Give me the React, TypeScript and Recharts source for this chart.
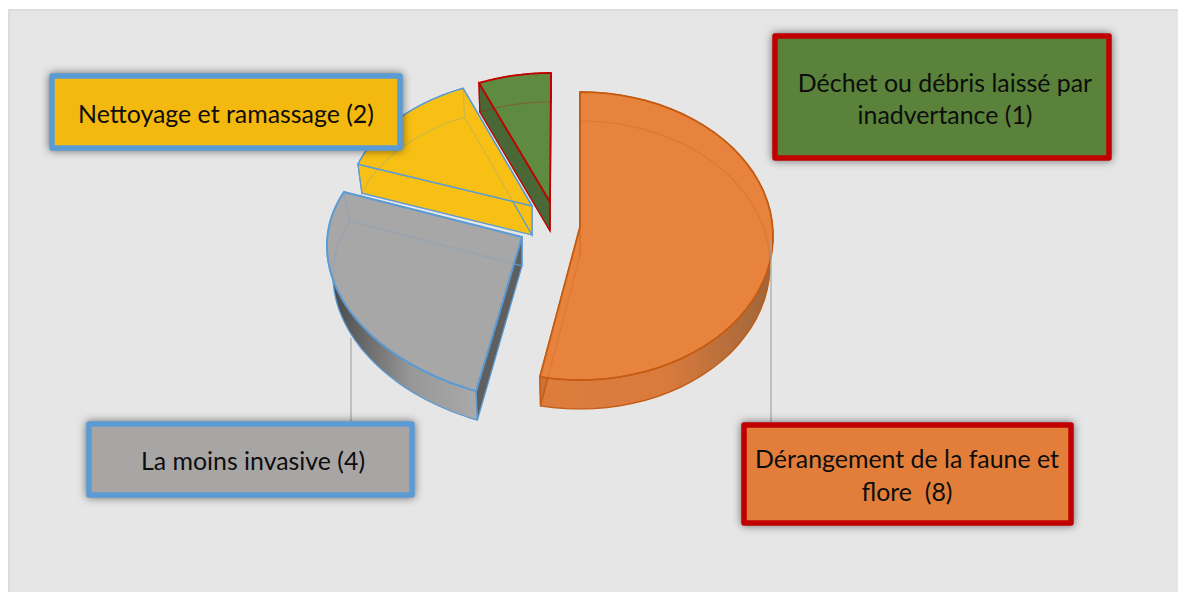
import { Pie, PieChart } from 'recharts';

const categories = [
    'Dérangement de la faune et flore',
    'La moins invasive',
    'Nettoyage et ramassage',
    'Déchet ou débris laissé par inadvertance',
];
const counts = [8, 4, 2, 1];
const labelLines = [
    ['Dérangement de la faune et', 'flore  (8)'],
    ['La moins invasive (4)'],
    ['Nettoyage et ramassage (2)'],
    ['Déchet ou débris laissé par', 'inadvertance (1)'],
];

const data = categories.map((name, i) => ({ name, value: counts[i] }));

// each exploded slice sits on its own projected circle, fitted by eye to the 3D look
const DEPTH = 29;
const slices = [
    { apex: [580, 227], cx: 580, cy: 236, a: 193, b: 0, c: 0, d: -144, shrink: 3, top: '#e7833d', edge: '#c55a11', edgeW: 1.8, side: '#c9733a', wallFrom: '#dc7d3d', wallMid: '#d97b3d', wallTo: '#a0663a', gx: [541, 770] },
    { apex: [522, 237], cx: 538.5, cy: 262, a: 210.7, b: 19, c: 28.7, d: -138.1, shrink: 6, top: '#a7a7a7', edge: '#5b9bd5', edgeW: 2, side: '#5f5f5f', wallFrom: '#4a4a4a', wallMid: '#989898', wallTo: '#a9a9a9', gx: [333, 476] },
    { apex: [532, 206], cx: 541.6, cy: 203, a: 193, b: 0, c: 0, d: -125.6, shrink: 4, top: '#f8c015', edge: '#5b9bd5', edgeW: 1.5, side: '#f8c015', wallFrom: '#f8c015', wallMid: '#f8c015', wallTo: '#f8c015', gx: [358, 532] },
    { apex: [550, 202], cx: 551, cy: 189, a: 177, b: 0, c: 0, d: -116, shrink: 2, top: '#5e8b40', edge: '#c00000', edgeW: 1.8, side: '#4a6835', wallFrom: '#4a6835', wallMid: '#4a6835', wallTo: '#4a6835', gx: [479, 551] },
];

const boxes = [
    { x: 744, y: 425, w: 327, h: 98, fill: '#e37e3a', stroke: '#c00000', textX: 907, textY: [458, 491], leader: [771, 240, 771, 422] },
    { x: 89, y: 424, w: 323, h: 71, fill: '#a8a5a5', stroke: '#5b9bd5', textX: 253, textY: [460], leader: [351, 338, 351, 421] },
    { x: 52, y: 76, w: 348, h: 72, fill: '#f4b90e', stroke: '#5b9bd5', textX: 226, textY: [113] },
    { x: 775, y: 36, w: 334, h: 122, fill: '#5a823a', stroke: '#c00000', textX: 945, textY: [82, 114] },
];

const rad = Math.PI / 180;

const arcPoints = (s: any, from: number, to: number, dy = 0, shrink = 0) => {
    const pts: string[] = [];
    const steps = 48;
    for (let i = 0; i <= steps; i++) {
        const t = (from + ((to - from) * i) / steps) * rad;
        const x = s.cx + (s.a - shrink) * Math.cos(t) + s.b * Math.sin(t);
        const y = s.cy + s.c * Math.cos(t) + s.d * Math.sin(t) + dy;
        pts.push(`${x.toFixed(1)} ${y.toFixed(1)}`);
    }
    return pts;
};

const SliceShape = (props: any) => {
    const { index, startAngle, endAngle } = props;
    const s = slices[index];
    const topArc = arcPoints(s, startAngle, endAngle);
    const lowArc = arcPoints(s, startAngle, endAngle, DEPTH, s.shrink);
    const [ax, ay] = s.apex;
    const first = topArc[0];
    const last = topArc[topArc.length - 1];
    const lowFirst = lowArc[0];
    const lowLast = lowArc[lowArc.length - 1];
    const gradId = `wall-${index}`;
    return (
        <g>
            <defs>
                <linearGradient id={gradId} gradientUnits="userSpaceOnUse" x1={s.gx[0]} y1={0} x2={s.gx[1]} y2={0}>
                    <stop offset="0" stopColor={s.wallFrom} />
                    <stop offset="0.55" stopColor={s.wallMid} />
                    <stop offset="1" stopColor={s.wallTo} />
                </linearGradient>
            </defs>
            <path d={`M${topArc.join('L')}L${[...lowArc].reverse().join('L')}Z`} fill={`url(#${gradId})`} stroke={s.edge} strokeWidth={1.2} />
            <path d={`M${ax} ${ay}L${first}L${lowFirst}L${ax} ${ay + DEPTH}Z`} fill={s.side} stroke={s.edge} strokeWidth={1.2} />
            <path d={`M${ax} ${ay}L${last}L${lowLast}L${ax} ${ay + DEPTH}Z`} fill={s.side} stroke={s.edge} strokeWidth={1.2} />
            <path d={`M${ax} ${ay}L${topArc.join('L')}Z`} fill={s.top} stroke={s.edge} strokeWidth={s.edgeW} strokeLinejoin="round" />
            <path d={`M${ax} ${ay + DEPTH}L${lowArc.join('L')}Z`} fill="none" stroke={s.edge} strokeOpacity={0.25} strokeWidth={1.2} />
            <path d={`M${ax} ${ay}L${ax} ${ay + DEPTH}M${first}L${lowFirst}M${last}L${lowLast}`} fill="none" stroke={s.edge} strokeOpacity={0.25} strokeWidth={1.2} />
        </g>
    );
};

const BoxLabel = (props: any) => {
    const box = boxes[props.index];
    const lines = labelLines[props.index];
    return (
        <g>
            {box.leader && (
                <line x1={box.leader[0]} y1={box.leader[1]} x2={box.leader[2]} y2={box.leader[3]} stroke="#a6a6a6" strokeWidth={1.2} />
            )}
            <rect
                x={box.x}
                y={box.y}
                width={box.w}
                height={box.h}
                fill={box.fill}
                stroke={box.stroke}
                strokeWidth={5.5}
                strokeLinejoin="round"
                style={{ filter: 'drop-shadow(0px 0px 4px rgba(0,0,0,0.55))' }}
            />
            {lines.map((line, i) => (
                <text
                    key={line}
                    x={box.textX}
                    y={box.textY[i]}
                    textAnchor="middle"
                    dominantBaseline="central"
                    fontFamily="Lato, sans-serif"
                    fontSize={24.9}
                    fill="#0d0d0d"
                    style={{ whiteSpace: 'pre' }}
                >
                    {line}
                </text>
            ))}
        </g>
    );
};

export default function App() {
    return (
        <div style={{ position: 'fixed', left: 0, top: 0, width: 1178, height: 592, background: '#fff', overflow: 'hidden' }}>
            <div style={{ position: 'absolute', left: 8, top: 9, width: 1170, height: 583, boxSizing: 'border-box', background: '#e6e6e6', border: '2px solid #dcdcdc', borderRight: 'none', borderBottom: 'none' }} />
            <div style={{ position: 'absolute', left: 0, top: 0 }}>
                <PieChart width={1178} height={592} margin={{ top: 0, right: 0, bottom: 0, left: 0 }}>
                    <Pie
                        data={data}
                        dataKey="value"
                        nameKey="name"
                        cx={580}
                        cy={236}
                        outerRadius={193}
                        startAngle={90}
                        endAngle={-270}
                        stroke="none"
                        isAnimationActive={false}
                        shape={SliceShape}
                        label={BoxLabel}
                        labelLine={false}
                    />
                </PieChart>
            </div>
        </div>
    );
}
